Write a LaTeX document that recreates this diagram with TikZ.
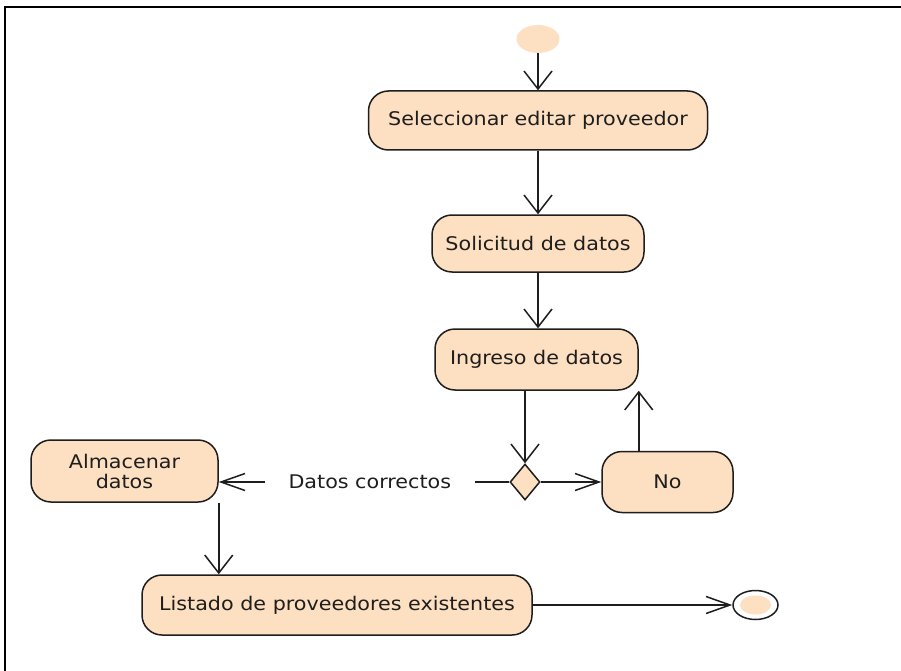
\documentclass[tikz,border=0pt]{standalone}
\usepackage{fontspec}
\setmainfont{DejaVu Sans}[FakeStretch=1.1]
\usetikzlibrary{arrows.meta,shapes.geometric}
\definecolor{peach}{RGB}{253,223,193}
\definecolor{ink}{RGB}{30,30,30}
\begin{document}
\begin{tikzpicture}[x=1pt,y=-1pt,
  txt/.style={text=ink, font=\fontsize{18.8}{20}\selectfont},
  act/.style={txt, draw=ink, fill=peach, rounded corners=20pt, line width=1.5pt,
              inner sep=0pt, align=center},
  flow/.style={draw=ink, line width=1.5pt},
  varr/.style={flow, -{Straight Barb[length=18pt,width=28pt]}},
  harr/.style={flow, -{Straight Barb[length=24pt,width=17pt]}},
]
% page and frame
\fill[white] (0,0) rectangle (901,671);
\useasboundingbox (0,0) rectangle (901,671);
\draw[line width=1.8pt] (901,7) -- (5,7) -- (5,671);

% initial node
\node[ellipse, fill=peach, minimum width=43pt, minimum height=28pt, inner sep=0pt] (ini) at (538,39) {};

% activities
\node[act, minimum width=339pt, minimum height=59pt] (sel) at (538,120.5) {Seleccionar editar proveedor};
\node[act, minimum width=212pt, minimum height=57pt] (sol) at (538,243.5) {Solicitud de datos};
\node[act, minimum width=203pt, minimum height=61pt] (ing) at (536.5,359.5) {Ingreso de datos};
\node[draw=ink, fill=peach, diamond, line width=1.5pt, minimum width=30pt, minimum height=36pt, inner sep=0pt] (dia) at (525,482) {};
\node[act, minimum width=131pt, minimum height=61pt] (no) at (667.5,482) {No};
\node[act, minimum width=187pt, minimum height=62pt] (alm) at (124.5,471) {Almacenar\\datos};
\node[act, minimum width=390pt, minimum height=60pt] (lis) at (337,605) {Listado de proveedores existentes};

% final node
\node[ellipse, draw=ink, fill=white, line width=1.5pt, minimum width=45pt, minimum height=29pt, inner sep=0pt] (fin) at (755.5,605) {};
\node[ellipse, fill=peach, minimum width=31pt, minimum height=19pt, inner sep=0pt] (finin) at (fin.center) {};

% flows
\draw[varr] (ini.south) -- (sel.north);
\draw[varr] (sel.south) -- (sol.north);
\draw[varr] (sol.south) -- (sol.south |- ing.north);
\draw[varr] (ing.south -| dia.north) -- (dia.north);
\draw[harr] (dia.east) -- (no.west);
\draw[varr] (no.north -| ing.east) -- (ing.south -| ing.east);
\draw[harr] (dia.west) -- node[txt, pos=0.48, fill=white, inner xsep=24pt] (lbl) {Datos correctos} (dia.west -| alm.east);
\draw[varr] (alm.south east) -- (alm.south east |- lis.north);
\draw[harr] (lis.east) -- (lis.east -| fin.west);
\end{tikzpicture}
\end{document}
